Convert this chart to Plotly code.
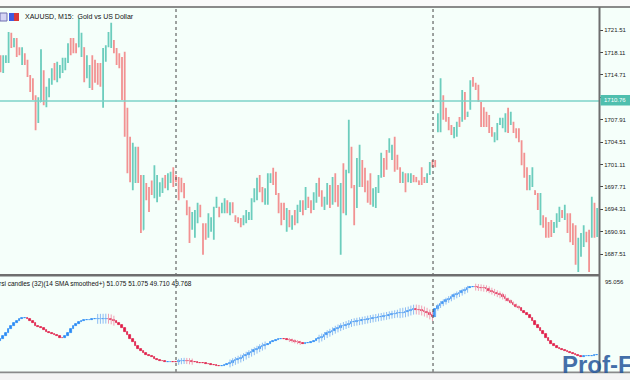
import plotly.graph_objects as go

# ---------------- data ----------------
bar_open = [
1717.2,1715.8,1716.9,1717.0,1720.4,1719.3,1719.8,1718.5,1717.0,1717.8,
1716.6,1714.5,1712.7,1711.3,1708.3,1710.6,1715.0,1710.6,1711.8,1713.6,
1715.4,1714.2,1714.6,1715.5,1715.9,1716.8,1719.8,1719.2,1719.2,1719.0,
1719.0,1718.8,1715.0,1713.6,1716.9,1715.9,1715.3,1715.6,1710.0,1717.0,
1719.2,1719.5,1719.6,1718.4,1717.5,1716.2,1716.0,1709.5,1705.2,1698.0,
1700.6,1703.5,1699.2,1691.2,1698.0,1697.0,1698.1,1696.4,1696.0,1696.6,
1697.2,1699.2,1697.6,1698.7,1700.1,1699.4,1698.9,1698.4,1697.6,1695.4,
1694.3,1691.6,1690.8,1692.6,1694.8,1692.0,1691.8,1690.4,1691.3,1690.2,
1694.8,1694.5,1694.0,1694.1,1695.4,1693.9,1695.2,1693.2,1692.9,1692.7,
1692.1,1692.6,1693.0,1693.1,1695.7,1696.5,1698.8,1697.2,1695.5,1695.6,
1698.6,1699.5,1699.1,1696.5,1694.6,1694.5,1691.6,1693.8,1691.6,1693.7,
1692.6,1694.2,1695.3,1694.5,1696.0,1695.3,1694.6,1695.8,1698.5,1696.8,
1694.6,1695.5,1697.6,1695.5,1699.0,1697.0,1695.0,1698.5,1694.2,1700.0,
1703.5,1697.6,1694.8,1698.6,1701.4,1699.9,1698.4,1698.0,1695.3,1695.1,
1697.0,1699.3,1701.7,1702.1,1703.2,1702.2,1704.0,1701.8,1700.4,1698.7,
1699.2,1698.7,1698.6,1699.3,1699.1,1698.6,1699.0,1699.0,1698.6,1699.8,
1701.6,1701.5,1706.2,1707.9,1711.0,1709.2,1708.0,1706.9,1705.4,1705.8,
1708.0,1708.0,1711.8,1708.5,1709.7,1714.0,1713.3,1712.9,1710.3,1709.0,
1708.6,1708.3,1706.6,1704.8,1705.2,1707.3,1707.0,1706.8,1708.8,1707.5,
1707.3,1706.4,1706.0,1704.6,1702.3,1700.3,1697.6,1698.1,1697.1,1696.5,
1692.6,1693.1,1692.8,1692.0,1692.2,1691.0,1691.8,1692.8,1694.0,1693.1,
1693.4,1693.0,1691.7,1691.4,1685.5,1687.5,1689.0,1690.6,1690.6,1690.2,
1694.5,1690.5]
bar_high = [
1717.7,1717.7,1717.7,1721.2,1721.1,1720.3,1720.3,1718.9,1718.9,1718.0,
1717.0,1714.7,1714.2,1711.6,1711.3,1718.6,1715.4,1712.9,1714.2,1715.7,
1716.5,1716.7,1716.2,1717.3,1717.3,1719.5,1720.3,1720.3,1719.5,1723.3,
1721.1,1718.9,1717.7,1716.2,1717.7,1717.0,1716.5,1716.5,1718.8,1719.2,
1721.2,1722.6,1720.0,1718.8,1718.0,1717.4,1718.2,1709.7,1705.3,1704.4,
1703.8,1703.8,1699.5,1699.5,1698.3,1697.7,1698.7,1701.0,1699.5,1698.4,
1699.1,1699.5,1699.8,1700.0,1700.7,1699.5,1699.2,1699.1,1698.3,1695.7,
1694.7,1693.9,1694.2,1695.3,1695.0,1692.2,1692.2,1693.7,1693.1,1694.7,
1696.2,1694.7,1695.3,1696.0,1695.7,1695.4,1695.4,1693.4,1693.1,1693.0,
1693.4,1694.2,1693.9,1696.0,1697.5,1699.1,1699.5,1697.7,1697.5,1699.8,
1699.8,1700.6,1700.0,1696.8,1695.3,1695.3,1694.5,1694.2,1693.4,1694.2,
1695.0,1695.7,1695.7,1697.7,1696.2,1695.7,1696.9,1698.3,1699.1,1697.2,
1696.2,1698.3,1698.0,1699.2,1699.8,1698.0,1698.3,1701.3,1700.3,1707.9,
1703.8,1698.0,1702.1,1704.1,1701.8,1700.6,1698.7,1699.8,1697.5,1697.7,
1699.5,1702.9,1702.1,1703.3,1705.1,1704.1,1705.3,1702.6,1700.7,1700.0,
1699.8,1699.8,1699.8,1699.5,1699.2,1698.7,1700.7,1699.2,1699.8,1701.5,
1701.8,1701.8,1708.9,1714.2,1711.6,1709.7,1708.3,1707.1,1706.8,1707.6,
1708.3,1712.4,1712.1,1709.1,1713.9,1714.4,1713.5,1713.2,1710.6,1709.8,
1709.1,1708.6,1706.8,1706.0,1707.4,1708.2,1708.2,1708.9,1709.7,1709.1,
1707.6,1706.6,1706.6,1704.8,1702.9,1700.7,1699.5,1700.7,1697.2,1696.8,
1696.8,1693.4,1693.1,1692.4,1692.7,1692.4,1693.7,1694.7,1694.2,1695.0,
1693.7,1693.7,1692.2,1691.9,1690.0,1690.7,1691.9,1690.9,1691.2,1696.2,
1695.3,1694.5]
bar_low = [
1715.1,1715.0,1716.5,1716.5,1718.8,1718.9,1717.4,1717.7,1716.2,1716.2,
1714.4,1712.1,1710.9,1706.3,1707.4,1710.6,1710.1,1709.8,1711.3,1713.2,
1713.9,1713.6,1714.2,1715.0,1715.4,1716.5,1717.7,1718.0,1718.0,1718.9,
1717.4,1713.6,1714.2,1712.7,1712.4,1713.5,1713.2,1712.9,1709.7,1716.7,
1718.9,1718.8,1718.0,1716.2,1715.7,1710.9,1705.3,1699.8,1698.4,1697.2,
1698.3,1698.3,1690.7,1691.2,1695.7,1693.9,1696.5,1696.0,1695.4,1696.2,
1696.8,1697.5,1697.2,1698.3,1697.7,1698.4,1695.7,1696.9,1696.0,1693.4,
1689.2,1691.2,1690.0,1692.2,1693.1,1687.4,1689.7,1690.0,1690.9,1689.7,
1694.5,1693.1,1693.7,1693.7,1693.7,1693.4,1693.7,1692.4,1692.2,1691.6,
1691.9,1692.2,1692.7,1692.7,1695.4,1695.7,1696.9,1695.4,1695.0,1695.0,
1698.3,1698.0,1696.5,1693.7,1691.9,1692.7,1690.9,1691.6,1691.2,1691.9,
1692.2,1693.9,1693.4,1694.2,1694.5,1693.7,1694.2,1695.3,1696.2,1694.7,
1694.2,1695.0,1694.5,1695.0,1695.4,1694.7,1687.4,1693.7,1693.4,1699.8,
1697.5,1691.9,1694.5,1697.7,1697.7,1696.9,1695.3,1695.0,1694.7,1694.5,
1696.8,1699.1,1699.2,1700.3,1702.9,1701.8,1700.0,1700.3,1698.3,1698.3,
1696.9,1698.4,1698.3,1698.4,1698.4,1698.0,1698.0,1698.3,1698.3,1699.5,
1700.7,1700.7,1706.0,1706.0,1707.9,1707.6,1706.3,1705.6,1705.1,1705.3,
1706.8,1707.6,1707.9,1708.3,1709.4,1712.9,1712.4,1710.6,1706.8,1706.8,
1706.8,1705.9,1705.3,1704.5,1704.8,1707.1,1706.6,1706.0,1705.9,1707.1,
1705.9,1705.1,1704.5,1701.0,1699.1,1697.2,1697.2,1697.7,1696.5,1694.2,
1691.9,1691.5,1690.0,1690.0,1690.1,1690.7,1691.5,1692.4,1693.0,1692.7,
1690.7,1689.3,1688.9,1685.9,1684.8,1687.1,1688.6,1689.3,1684.8,1690.0,
1690.0,1690.1]
bar_close = [
1715.8,1716.9,1717.3,1720.4,1719.3,1719.8,1718.0,1718.0,1718.3,1716.6,
1714.8,1712.7,1711.3,1708.7,1710.3,1716.5,1711.3,1712.4,1713.6,1715.0,
1714.4,1715.6,1715.7,1716.3,1716.4,1719.0,1718.5,1718.3,1718.5,1719.8,
1720.3,1716.8,1716.6,1715.7,1713.3,1715.0,1714.0,1713.5,1713.8,1718.5,
1720.5,1721.2,1718.6,1716.9,1716.1,1711.5,1714.4,1706.0,1702.4,1700.6,
1702.9,1700.0,1691.2,1697.7,1696.9,1694.6,1696.9,1699.6,1698.0,1697.9,
1698.6,1697.9,1699.2,1699.7,1698.5,1698.7,1696.5,1697.3,1696.4,1693.9,
1692.2,1693.2,1692.4,1694.5,1693.5,1689.6,1690.3,1692.0,1692.5,1693.0,
1695.9,1693.5,1694.9,1695.4,1694.1,1695.0,1694.0,1692.8,1692.5,1691.9,
1693.0,1693.6,1693.6,1695.3,1697.0,1698.3,1697.4,1695.8,1697.0,1699.0,
1699.3,1698.8,1697.0,1694.2,1692.8,1693.4,1693.9,1692.3,1692.9,1692.4,
1694.5,1695.2,1693.9,1697.0,1695.0,1694.1,1696.3,1697.7,1696.8,1695.2,
1695.9,1697.8,1695.1,1698.7,1696.4,1695.4,1697.8,1697.9,1699.8,1703.8,
1697.9,1694.5,1699.5,1702.6,1698.6,1697.6,1696.0,1695.6,1696.3,1696.5,
1699.0,1702.3,1700.3,1700.8,1704.5,1703.8,1701.0,1700.8,1699.0,1699.6,
1697.6,1699.4,1699.3,1698.8,1698.8,1698.2,1698.4,1698.6,1699.5,1701.1,
1701.2,1701.0,1708.0,1712.5,1708.6,1708.0,1706.8,1706.0,1706.3,1707.2,
1707.1,1711.6,1709.0,1709.0,1713.3,1713.2,1712.6,1711.0,1707.4,1707.5,
1707.3,1706.5,1705.7,1705.6,1706.9,1707.9,1707.9,1708.3,1706.6,1708.7,
1706.3,1705.6,1705.0,1701.8,1699.8,1698.0,1698.9,1700.1,1696.7,1694.8,
1696.0,1691.9,1690.5,1690.4,1690.8,1692.0,1693.2,1694.0,1693.3,1694.5,
1691.4,1690.0,1689.5,1688.6,1688.0,1690.0,1691.2,1689.8,1689.7,1693.9,
1690.5,1694.2]

rsi_close = [
59.9,61.7,63.5,65.8,67.8,69.3,70.5,71.4,72.2,72.4,
71.9,70.5,69.3,67.8,67.0,66.1,65.2,64.3,63.5,62.9,
62.3,61.4,60.8,60.5,61.4,63.5,65.8,67.6,69.0,69.9,
70.5,70.8,71.1,71.1,71.4,71.7,71.7,71.8,71.8,71.9,
71.7,71.1,70.2,69.3,68.1,66.4,64.0,62.0,59.9,57.9,
55.9,54.1,52.9,51.8,50.6,49.7,49.1,48.5,47.7,47.1,
46.8,46.5,46.5,46.5,46.4,46.3,46.8,47.1,47.1,47.0,
46.8,46.5,46.2,45.9,45.8,45.6,45.3,45.0,44.7,44.6,
44.4,44.2,44.3,44.7,45.3,45.9,46.8,47.4,48.2,48.8,
49.7,50.6,51.5,52.3,53.2,54.1,55.0,55.9,56.4,57.0,
57.9,58.5,59.2,59.7,59.9,59.8,59.5,59.2,58.8,58.3,
57.9,57.4,57.0,57.3,57.6,58.2,58.8,59.7,60.5,61.1,
62.3,63.2,64.0,64.9,65.8,66.4,67.3,67.8,68.4,69.0,
69.6,69.9,70.2,70.5,70.8,71.1,71.5,71.8,72.1,72.4,
72.7,73.0,73.3,73.6,74.0,74.3,74.6,74.9,75.2,75.4,
75.7,76.3,76.9,77.3,77.1,76.9,76.3,75.7,74.9,73.7,
72.8,77.5,79.5,80.7,81.6,82.6,83.5,84.5,85.4,86.1,
86.9,87.8,88.6,89.5,90.1,90.4,90.2,90.0,89.8,89.5,
89.2,88.3,87.6,86.9,86.0,85.5,84.5,83.6,82.4,81.3,
80.1,78.9,77.8,76.4,75.2,73.7,72.0,70.2,68.1,66.4,
64.6,62.6,60.8,58.8,57.0,55.9,54.8,54.1,53.4,52.8,
52.2,51.8,51.2,50.6,49.7,49.4,49.7,49.8,50.0,50.2,
50.4,50.6]
rsi_first_open = 58.8
rsi_wick = [
0,0,0,0,0,0,0,0,0,0,
0,0,0,0,0,0,0,0,0,0,
0,0,0,0,0,0,0,0,0,0,
0,0,0,0,0,0,2.9,2.9,2.9,2.9,
2.9,2.9,2.9,0,0,0,0,0,0,0,
0,0,0,0,0,0,0,0,0,0,
0,0,0,0,0,0,1.8,1.8,1.8,1.8,
1.8,1.8,0,0,0,0,0,0,0,0,
0,0,0,0,0,2.3,2.3,2.3,2.3,2.3,
2.3,2.3,2.3,2.3,2.3,2.3,2.3,2.3,2.3,0,
0,0,0,0,0,0,0,1.2,1.2,1.2,
1.2,1.2,0,0,0,0,0,0,2.3,2.3,
2.3,2.3,2.3,2.3,2.3,2.3,2.3,2.3,2.3,2.3,
2.3,2.3,2.3,2.3,2.3,2.3,2.3,2.3,2.3,2.3,
2.3,2.3,2.3,2.3,2.3,2.3,2.3,2.3,2.9,2.9,
2.9,2.9,2.9,2.9,2.9,2.9,2.9,2.9,2.9,2.9,
2.9,2.0,2.0,2.0,2.0,2.0,2.0,2.0,2.0,2.0,
2.0,2.0,2.0,2.0,0,0,2.0,2.0,2.0,2.0,
2.0,2.0,2.0,2.0,2.0,2.0,2.0,2.0,1.2,1.2,
1.2,1.2,1.2,0,0,0,0,0,0,0,
0,0,0,0,0,0,0,0,0,0,
0,0,0,0,0,0,0,0,0,0,
0,0]

price_ticks = [1721.51, 1718.11, 1714.71, 1711.31, 1707.91, 1704.51, 1701.11,
               1697.71, 1694.31, 1690.91, 1687.51]
hline_price = 1710.76
day_separators = [65.0, 160.2]
rsi_max_label = "95.056"
title_text = "XAUUSD, M15:  Gold vs US Dollar"
ind_text = "rsi candles (32)(14 SMA smoothed+) 51.075 51.075 49.710 49.768"

# ---------------- styling helpers ----------------
W, H = 630, 380
ML, MR, MT, MB = 0, 31, 8, 8
PW, PH = W - ML - MR, H - MT - MB
def px(x):
    return (x - ML) / PW
def py(y):
    return (H - MB - y) / PH

BG = "#F5FFFA"
TEAL = "#6ccdbd"
RED = "#f29292"
BLUE = "#2b8cf5"
CRIMSON = "#e0204a"
FONT = "Liberation Sans"

n = len(bar_close)
idx = list(range(n))

fig = go.Figure()
fig.add_trace(go.Ohlc(
    x=idx, open=bar_open, high=bar_high, low=bar_low, close=bar_close,
    increasing=dict(line=dict(color=TEAL, width=1.8)),
    decreasing=dict(line=dict(color=RED, width=1.8)),
    tickwidth=0.25, xaxis="x", yaxis="y", hoverinfo="skip", showlegend=False))

rsi_open = [rsi_first_open] + rsi_close[:-1]
up = [c >= o for o, c in zip(rsi_open, rsi_close)]

for direction, wcol in ((True, "#8cbcf2"), (False, "#f0a0b4")):
    wx, wy = [], []
    for i in idx:
        if rsi_wick[i] > 0 and up[i] == direction:
            mid = (rsi_open[i] + rsi_close[i]) / 2
            wx += [i, i, None]
            wy += [mid - rsi_wick[i], mid + rsi_wick[i], None]
    fig.add_trace(go.Scatter(x=wx, y=wy, mode="lines", line=dict(color=wcol, width=1),
                             xaxis="x2", yaxis="y2", hoverinfo="skip", showlegend=False))

fig.add_trace(go.Bar(
    x=idx,
    base=[min(o, c) for o, c in zip(rsi_open, rsi_close)],
    y=[abs(c - o) for o, c in zip(rsi_open, rsi_close)],
    width=0.6,
    marker=dict(color=[BLUE if u else CRIMSON for u in up],
                line=dict(color=[BLUE if u else CRIMSON for u in up], width=0.8)),
    xaxis="x2", yaxis="y2", hoverinfo="skip", showlegend=False))

xr = [-0.185, 221.67]
main_bottom = py(273)
low_top = py(277)

fig.update_layout(
    width=W, height=H,
    margin=dict(l=ML, r=MR, t=MT, b=MB),
    paper_bgcolor=BG, plot_bgcolor=BG,
    showlegend=False, bargap=0,
    xaxis=dict(domain=[0, 1], range=xr, anchor="y", showticklabels=False,
               showgrid=False, zeroline=False, rangeslider=dict(visible=False),
               ticks=""),
    xaxis2=dict(domain=[0, 1], range=xr, anchor="y2", showticklabels=False,
                showgrid=False, zeroline=False, ticks=""),
    yaxis=dict(domain=[main_bottom, 1], range=[1684.65, 1724.85], side="right",
               tickvals=price_ticks, ticktext=[f"{v:.2f}" for v in price_ticks],
               ticks="outside", ticklen=3, tickcolor="#444", tickwidth=1,
               tickfont=dict(family=FONT, size=6, color="#222"),
               showgrid=False, zeroline=False),
    yaxis2=dict(domain=[0, low_top], range=[40.6, 96.23], side="right",
                showticklabels=False, ticks="", showgrid=False, zeroline=False),
    font=dict(family=FONT),
)

shapes = []
shapes.append(dict(type="line", xref="paper", yref="y", x0=0, x1=1,
                   y0=hline_price, y1=hline_price, line=dict(color="#7dd3c8", width=1.5)))
for s in day_separators:
    shapes.append(dict(type="line", xref="x", yref="paper", x0=s, x1=s,
                       y0=0, y1=1, line=dict(color="#444444", width=1, dash="dot")))
shapes.append(dict(type="rect", xref="paper", yref="paper", x0=px(0), x1=px(630),
                   y0=py(0), y1=py(6.5), fillcolor="#fafafa", line=dict(width=0), layer="above"))
shapes.append(dict(type="line", xref="paper", yref="paper", x0=px(0), x1=px(630),
                   y0=py(7), y1=py(7), line=dict(color="#8a8a8a", width=2)))
shapes.append(dict(type="line", xref="paper", yref="paper", x0=px(599.5), x1=px(599.5),
                   y0=py(7), y1=py(372), line=dict(color="#6e6e6e", width=2)))
shapes.append(dict(type="line", xref="paper", yref="paper", x0=px(0), x1=px(600),
                   y0=py(275.3), y1=py(275.3), line=dict(color="#6e6e6e", width=2.5)))
shapes.append(dict(type="line", xref="paper", yref="paper", x0=px(0), x1=px(630),
                   y0=py(372.5), y1=py(372.5), line=dict(color="#8a8a8a", width=2)))
shapes.append(dict(type="rect", xref="paper", yref="paper", x0=px(0), x1=px(630),
                   y0=py(373.5), y1=py(380), fillcolor="#f4f4f4", line=dict(width=0)))
shapes.append(dict(type="rect", xref="paper", yref="paper", x0=px(0), x1=px(7),
                   y0=py(21), y1=py(13), fillcolor="#d4d4f4", line=dict(color="#7070b0", width=1)))
shapes.append(dict(type="rect", xref="paper", yref="paper", x0=px(9), x1=px(14),
                   y0=py(21), y1=py(13), fillcolor="#3f5be0", line=dict(width=0)))
shapes.append(dict(type="rect", xref="paper", yref="paper", x0=px(14), x1=px(19),
                   y0=py(21), y1=py(13), fillcolor="#d83a3a", line=dict(width=0)))
shapes.append(dict(type="rect", xref="paper", yref="paper", x0=px(600.5), x1=px(630),
                   y0=py(105.5), y1=py(95), fillcolor="#4fbfae", line=dict(width=0), layer="above"))
fig.update_layout(shapes=shapes)

ann = [
    dict(text=title_text, xref="paper", yref="paper", x=px(23), y=py(16), xanchor="left",
         yanchor="middle", showarrow=False, font=dict(family=FONT, size=7, color="#111")),
    dict(text=ind_text, xref="paper", yref="paper", x=px(-3), y=py(284), xanchor="left",
         yanchor="middle", showarrow=False, font=dict(family=FONT, size=6.5, color="#111")),
    dict(text=f"{hline_price:.2f}", xref="paper", yref="paper", x=px(615), y=py(100.3),
         xanchor="center", yanchor="middle", showarrow=False,
         font=dict(family=FONT, size=6, color="white")),
    dict(text=rsi_max_label, xref="paper", yref="paper", x=px(603), y=py(282), xanchor="left",
         yanchor="middle", showarrow=False, font=dict(family=FONT, size=6, color="#222")),
    dict(text="<b>Prof-F</b>", xref="paper", yref="paper", x=px(560), y=py(364),
         xanchor="left", yanchor="middle", showarrow=False,
         font=dict(family=FONT, size=24, color="rgba(35,85,155,0.85)")),
]
fig.update_layout(annotations=ann)

fig.write_html("out.html", config={"displayModeBar": False},
               post_script="document.body.style.margin='0px';document.body.style.overflow='hidden';")
